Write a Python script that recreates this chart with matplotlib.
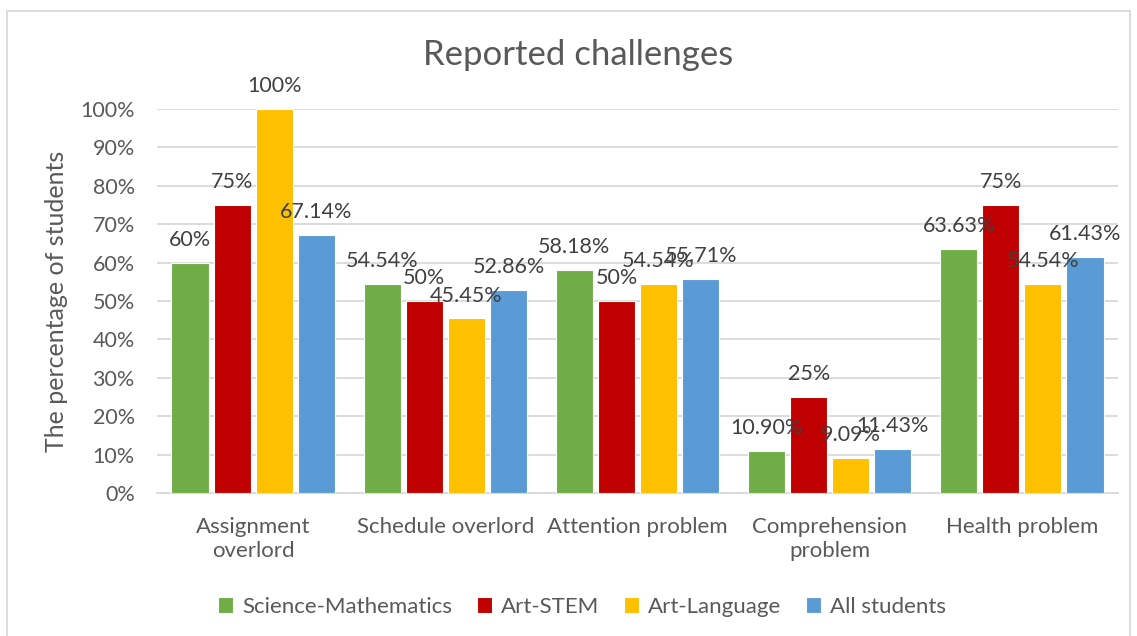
"""Reported challenges grouped bar chart."""

import matplotlib

matplotlib.use("Agg")
import matplotlib.pyplot as plt  # noqa: E402
import numpy as np
from matplotlib.patches import Rectangle

plt.rcParams["font.family"] = ["Lato", "DejaVu Sans"]

TEXT = "#595959"
LABEL = "#404040"
GRID = "#D9D9D9"

categories = [
    "Assignment\noverlord",
    "Schedule overlord",
    "Attention problem",
    "Comprehension\nproblem",
    "Health problem",
]
series_names = ["Science-Mathematics", "Art-STEM", "Art-Language", "All students"]
series_colors = ["#70AD47", "#C00000", "#FFC000", "#5B9BD5"]

sci_math = [60.0, 54.54, 58.18, 10.90, 63.63]
art_stem = [75.0, 50.0, 50.0, 25.0, 75.0]
art_lang = [100.0, 45.45, 54.54, 9.09, 54.54]
all_students = [67.14, 52.86, 55.71, 11.43, 61.43]

sci_math_labels = ["60%", "54.54%", "58.18%", "10.90%", "63.63%"]
art_stem_labels = ["75%", "50%", "50%", "25%", "75%"]
art_lang_labels = ["100%", "45.45%", "54.54%", "9.09%", "54.54%"]
all_students_labels = ["67.14%", "52.86%", "55.71%", "11.43%", "61.43%"]

yticks = [0, 10, 20, 30, 40, 50, 60, 70, 80, 90, 100]

fig = plt.figure(figsize=(11.37, 6.36), dpi=100, facecolor="white")
ax = fig.add_axes([157 / 1137, 1 - 493 / 636, (1118 - 157) / 1137, (493 - 109) / 636])

x = np.arange(len(categories))
step = 0.219
width = 0.193
all_values = [sci_math, art_stem, art_lang, all_students]
all_labels = [sci_math_labels, art_stem_labels, art_lang_labels, all_students_labels]

for i, (vals, labs, name, color) in enumerate(zip(all_values, all_labels, series_names, series_colors)):
    pos = x + (i - 1.5) * step
    ax.bar(pos, vals, width=width, color=color, edgecolor="white", linewidth=0.8, label=name, zorder=3)
    for px, v, lab in zip(pos, vals, labs):
        ax.annotate(lab, (px, v), xytext=(0, 16.5), textcoords="offset points",
                    ha="center", va="center", fontsize=15.5, color=LABEL, zorder=4)

ax.set_xlim(-0.5, len(categories) - 0.5)
ax.set_ylim(0, 100)
ax.set_yticks(yticks, [f"{t}%" for t in yticks])
ax.set_xticks(x, categories)
ax.tick_params(axis="y", length=0, labelsize=15.5, labelcolor=TEXT, pad=16)
ax.tick_params(axis="x", length=0, labelsize=16, labelcolor=TEXT, pad=17)
for lab in ax.get_xticklabels():
    lab.set_linespacing(1.3)
ax.yaxis.grid(True, color=GRID, linewidth=1.3, zorder=0)
for side in ["top", "right", "left"]:
    ax.spines[side].set_visible(False)
ax.spines["bottom"].set_color(GRID)
ax.spines["bottom"].set_linewidth(1.3)

ax.set_ylabel("The percentage of students", fontsize=18, color=TEXT, labelpad=9)
fig.text(578 / 1137, 1 - 55 / 636, "Reported challenges", ha="center", va="center",
         fontsize=25, color=TEXT)

fig.legend(loc="center", bbox_to_anchor=(582 / 1137, 1 - 607 / 636), ncol=4, frameon=False,
           fontsize=16, labelcolor=TEXT, handlelength=0.7, handleheight=0.7,
           handletextpad=0.4, columnspacing=1.1)

fig.add_artist(Rectangle((7 / 1137, -0.02), (1130 - 7) / 1137, 1.02 - 11 / 636,
                         transform=fig.transFigure, fill=False, edgecolor=GRID, linewidth=1.3))

fig.savefig("out.png", dpi=100, facecolor="white")
